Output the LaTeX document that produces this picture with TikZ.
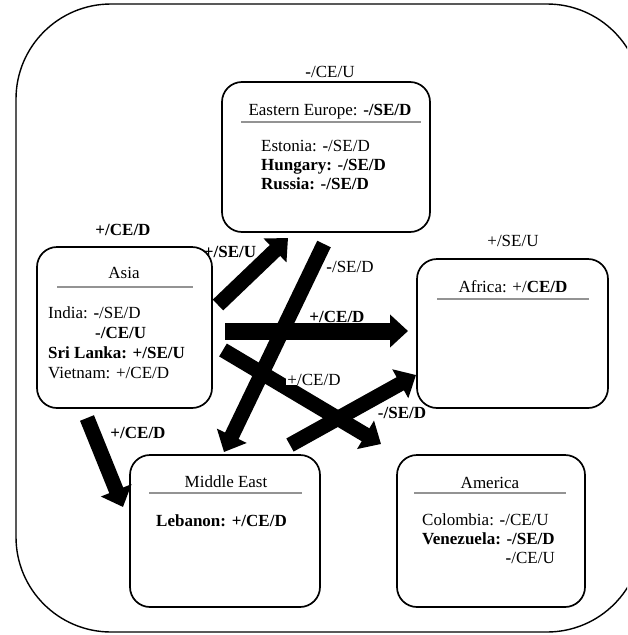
\documentclass[tikz,border=0pt]{standalone}
\usepackage{fontspec}
\setmainfont{Liberation Serif}
\usetikzlibrary{arrows.meta}
\begin{document}
\begin{tikzpicture}[x=1pt,y=-1pt,
  every node/.style={inner sep=0pt, font=\fontsize{17}{19}\selectfont},
  region/.style={draw, line width=1.7pt, rounded corners=20pt},
  rulebar/.style={draw=gray!85, line width=1.2pt},
  blockarrow/.style={line width=15pt, -{Triangle[width=32pt,length=18pt]}},
  lbl/.style={anchor=base},
  item/.style={anchor=base west},
  itemr/.style={anchor=base east},
]
\useasboundingbox (0,0) rectangle (627,635);
\clip (0,0) rectangle (627,635);

% outer frame
\draw[line width=1.4pt, rounded corners=95pt] (16,4) rectangle (642,632);

% region boxes
\node[region, minimum width=208pt, minimum height=150pt] (ee) at (326,157) {};
\node[region, minimum width=175pt, minimum height=161pt] (asia) at (124.5,327.5) {};
\node[region, minimum width=191pt, minimum height=149pt] (afr) at (512.5,333.5) {};
\node[region, minimum width=190pt, minimum height=152pt] (me) at (225,531) {};
\node[region, minimum width=188pt, minimum height=152pt] (am) at (491,531) {};

% header rules
\draw[rulebar] (241,122) -- (421,122);
\draw[rulebar] (57,287) -- (193,287);
\draw[rulebar] (437,299) -- (589,299);
\draw[rulebar] (149,493) -- (302,493);
\draw[rulebar] (414,493) -- (566,493);

% Eastern Europe
\node[lbl] (eetop) at (330,77) {\textbf{-}/CE/U};
\node[lbl] (eehead) at (330,115) {Eastern Europe: \textbf{-/SE/D}};
\node[item] (est) at (261,151) {Estonia: \textbf{-}/SE/D};
\node[item] (hun) at (261,170) {\textbf{Hungary: -/SE/D}};
\node[item] (rus) at (261,189) {\textbf{Russia: -/SE/D}};

% Asia
\node[lbl] (asiatop) at (123,235) {\textbf{+/CE/D}};
\node[lbl] (asiahead) at (124,278) {Asia};
\node[item] (ind) at (48,318) {India: \textbf{-}/SE/D};
\node[item] (ind2) at (95,338) {\textbf{-/CE/U}};
\node[item] (sri) at (48,358) {\textbf{Sri Lanka: +/SE/U}};
\node[item] (vie) at (48,378) {Vietnam: +/CE/D};

% Africa
\node[lbl] (afrtop) at (513,246) {+/SE/U};
\node[lbl] (afrhead) at (513,292) {Africa: +/\textbf{CE/D}};

% Middle East
\node[lbl] (mehead) at (226,487) {Middle East};
\node[item] (leb) at (156,526) {\textbf{Lebanon: +/CE/D}};

% America
\node[lbl] (amhead) at (490,488) {America};
\node[item] (col) at (422,525) {Colombia: \textbf{-}/CE/U};
\node[item] (ven) at (422,544) {\textbf{Venezuela: -/SE/D}};
\node[itemr] (ven2) at (555,563) {\textbf{-}/CE/U};

% flow arrows
\coordinate (a1s) at (218,305); \coordinate (a1e) at (288,238);
\coordinate (a2s) at (324,244); \coordinate (a2e) at (224,452);
\coordinate (a3s) at (225,331); \coordinate (a3e) at (408,331);
\coordinate (a4s) at (223,350); \coordinate (a4e) at (381,444);
\coordinate (a5s) at (290,445); \coordinate (a5e) at (416,375);
\coordinate (a6s) at (87,418);  \coordinate (a6e) at (123,507);
\draw[blockarrow] (a1s) -- (a1e);
\draw[blockarrow] (a2s) -- (a2e);
\draw[blockarrow, line width=17pt] (a3s) -- (a3e);
\draw[blockarrow] (a4s) -- (a4e);
\draw[blockarrow] (a5s) -- (a5e);
\draw[blockarrow] (a6s) -- (a6e);

% arrow labels
\node[lbl] (l1) at (230,257) {\textbf{+/SE/U}};
\node[lbl] (l2) at (350,272) {\textbf{-}/SE/D};
\node[lbl] (l3) at (337,322) {\textbf{+/CE/D}};
\node[lbl, fill=white, inner xsep=1pt] (l4) at (314,385) {+/CE/D};
\node[lbl] (l5) at (402,418) {\textbf{-/SE/D}};
\node[lbl] (l6) at (138,438) {\textbf{+/CE/D}};
\end{tikzpicture}
\end{document}
